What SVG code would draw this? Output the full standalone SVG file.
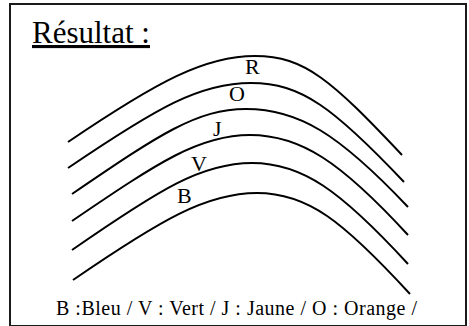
<svg xmlns="http://www.w3.org/2000/svg" width="469" height="326" viewBox="0 0 469 326">
<style>
.frame{fill:#fff;stroke:#1a1a1a;stroke-width:2}
.c{fill:none;stroke:#000;stroke-width:2}
text{font-family:"Liberation Serif","Times New Roman",serif;fill:#000}
</style>
<rect class="frame" x="10" y="4" width="456" height="322"/>
<g id="title"><text x="32" y="43" font-family="Liberation Serif, serif" font-size="31" text-decoration="underline">Résultat :</text></g>
<g id="connectors">
<path class="c" d="M68,142 C158,81 205,56 255,56 C305,56 332,81 402,155"/>
<path class="c" d="M68,168 C158,107 200,83 251,83 C301,83 334,108 404,182"/>
<path class="c" d="M72,194 C160,134 197,109 246,109 C298,109 338,133 408,207"/>
<path class="c" d="M72,221 C160,161 200,135 250,135 C300,135 340,161 408,235"/>
<path class="c" d="M72,250 C160,189 202,163 252,163 C302,163 340,190 408,264"/>
<path class="c" d="M73,280 C162,219 207,193 257,193 C307,193 342,220 410,294"/>
</g>
<g id="labels" font-family="Liberation Serif, serif" font-size="22">
<text x="245" y="74">R</text>
<text x="229" y="101">O</text>
<text x="213" y="136">J</text>
<text x="191" y="171">V</text>
<text x="177" y="203">B</text>
</g>
<g id="legend"><text x="56" y="315" font-family="Liberation Serif, serif" font-size="20" textLength="361" lengthAdjust="spacing">B :Bleu / V : Vert / J : Jaune / O : Orange /</text></g>
</svg>
